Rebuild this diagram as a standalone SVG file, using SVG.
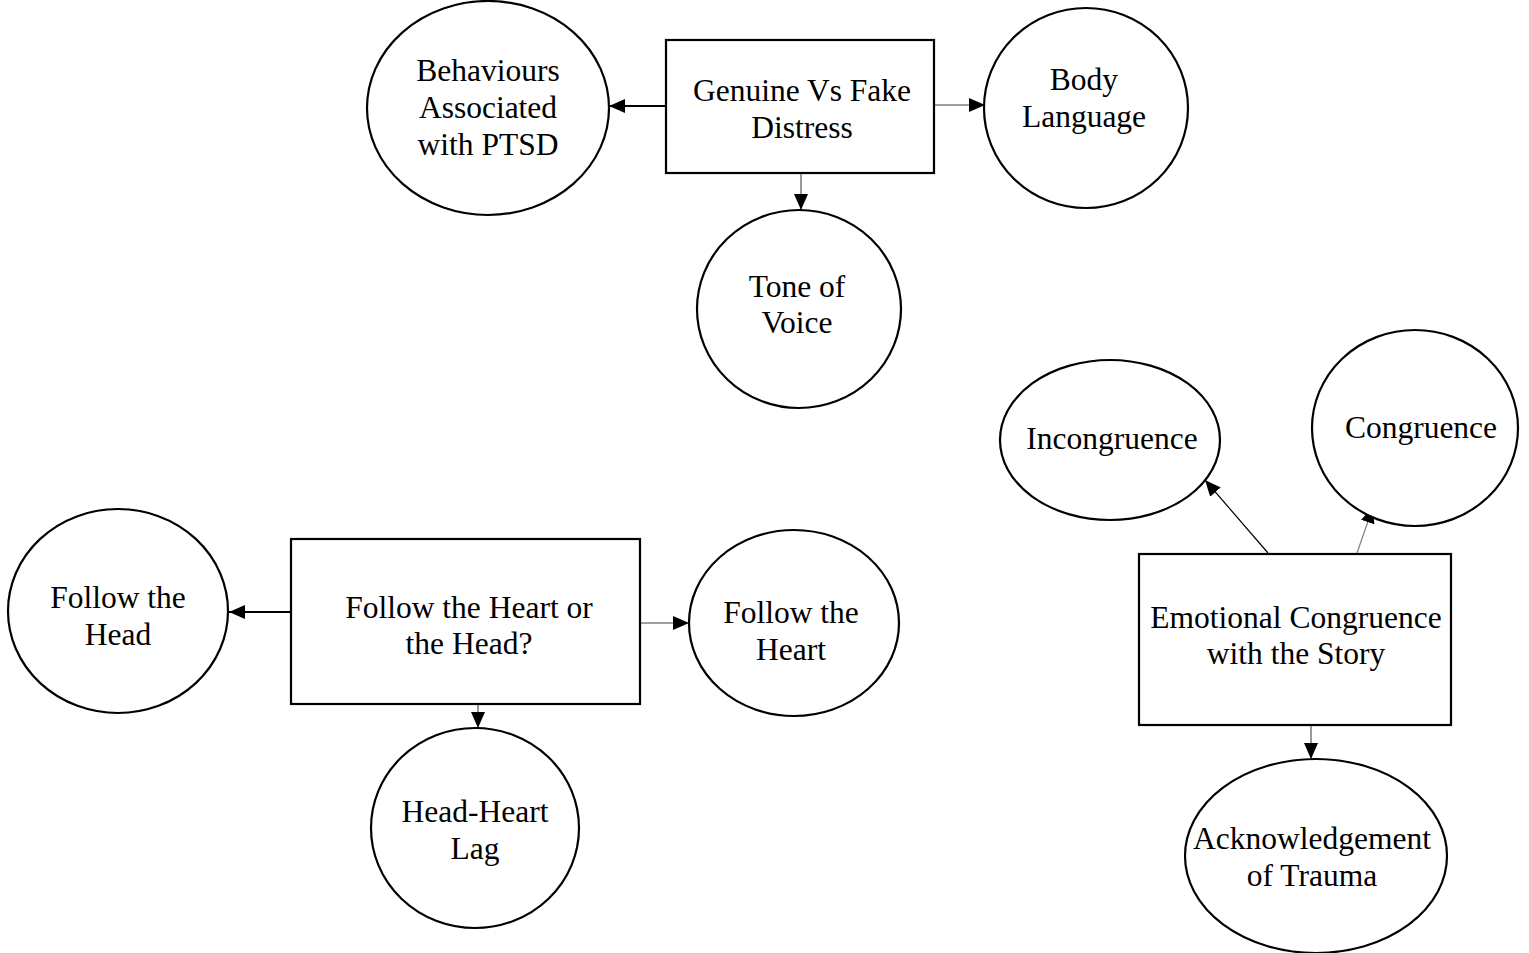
<svg xmlns="http://www.w3.org/2000/svg" width="1529" height="953" viewBox="0 0 1529 953">
<style>
.n{fill:#fff;stroke:#000;stroke-width:2.2}
text{font-family:"Liberation Serif","Times New Roman",serif;font-size:31.5px;fill:#000;text-anchor:middle}
.cb{stroke:#000;stroke-width:2;fill:none}
.cg{stroke:#7f7f7f;stroke-width:1.6;fill:none}
.ct{stroke:#000;stroke-width:1.2;fill:none}
.ctg{stroke:#7f7f7f;stroke-width:1.2;fill:none}
</style>
<defs>
<marker id="ah" viewBox="0 0 16 14" refX="16" refY="7" markerWidth="16" markerHeight="14" markerUnits="userSpaceOnUse" orient="auto">
<path d="M0,0 L16,7 L0,14 Z" fill="#000"/>
</marker>
</defs>
<rect width="1529" height="953" fill="#fff"/>
<g id="connectors">
<path class="cb" d="M666,106 L609,106" marker-end="url(#ah)"/>
<path class="cg" d="M934,105 L985,105" marker-end="url(#ah)"/>
<path class="cg" d="M801,173 L801,210" marker-end="url(#ah)"/>
<path class="cb" d="M291,612 L229,612" marker-end="url(#ah)"/>
<path class="cg" d="M640,623 L689,623" marker-end="url(#ah)"/>
<path class="cg" d="M478,704 L478,728" marker-end="url(#ah)"/>
<path class="ct" d="M1268,553 L1205,480" marker-end="url(#ah)"/>
<path class="ctg" d="M1357,553 L1373,507" marker-end="url(#ah)"/>
<path class="cg" d="M1311,725 L1311,759" marker-end="url(#ah)"/>
</g>
<g id="genuine">
<rect class="n" x="666" y="40" width="268" height="133"/>
<text x="802" y="101">Genuine Vs Fake</text>
<text x="802" y="138">Distress</text>
</g>
<g id="behaviours">
<ellipse class="n" cx="488" cy="108" rx="121" ry="107"/>
<text x="488" y="81">Behaviours</text>
<text x="488" y="118">Associated</text>
<text x="488" y="155">with PTSD</text>
</g>
<g id="body">
<ellipse class="n" cx="1086" cy="108" rx="102" ry="100"/>
<text x="1084" y="90">Body</text>
<text x="1084" y="127">Language</text>
</g>
<g id="tone">
<ellipse class="n" cx="799" cy="309" rx="102" ry="99"/>
<text x="797" y="297">Tone of</text>
<text x="797" y="333">Voice</text>
</g>
<g id="heartorhead">
<rect class="n" x="291" y="539" width="349" height="165"/>
<text x="469" y="618">Follow the Heart or</text>
<text x="469" y="654">the Head?</text>
</g>
<g id="head">
<ellipse class="n" cx="118" cy="611" rx="110" ry="102"/>
<text x="118" y="608">Follow the</text>
<text x="118" y="645">Head</text>
</g>
<g id="heart">
<ellipse class="n" cx="794" cy="623" rx="105" ry="93"/>
<text x="791" y="623">Follow the</text>
<text x="791" y="660">Heart</text>
</g>
<g id="lag">
<ellipse class="n" cx="475" cy="828" rx="104" ry="100"/>
<text x="475" y="822">Head-Heart</text>
<text x="475" y="859">Lag</text>
</g>
<g id="emotional">
<rect class="n" x="1139" y="554" width="312" height="171"/>
<text x="1296" y="628">Emotional Congruence</text>
<text x="1296" y="664">with the Story</text>
</g>
<g id="incongruence">
<ellipse class="n" cx="1110" cy="440" rx="110" ry="80"/>
<text x="1112" y="449">Incongruence</text>
</g>
<g id="congruence">
<ellipse class="n" cx="1415" cy="428" rx="103" ry="98"/>
<text x="1421" y="438">Congruence</text>
</g>
<g id="acknowledgement">
<ellipse class="n" cx="1316" cy="856" rx="131" ry="97"/>
<text x="1312" y="849">Acknowledgement</text>
<text x="1312" y="886">of Trauma</text>
</g>
</svg>
